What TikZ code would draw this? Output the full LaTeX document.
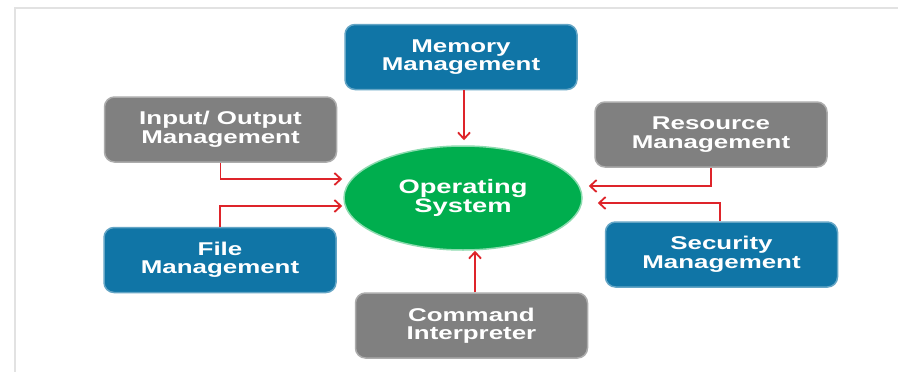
\documentclass[tikz,border=0pt]{standalone}
\usepackage{fontspec}
\newfontfamily\boxfont{Liberation Sans}[FakeStretch=1.4]
\usetikzlibrary{arrows.meta,shapes.geometric}
\definecolor{osblue}{RGB}{16,117,166}
\definecolor{osgray}{RGB}{128,128,128}
\definecolor{osgreen}{RGB}{0,174,78}
\definecolor{osred}{RGB}{222,36,42}
\definecolor{frame}{RGB}{226,226,226}
\tikzset{
  mbox/.style={rectangle, rounded corners=10pt, minimum width=232pt, minimum height=65pt,
    inner sep=0pt, align=center, text=white, line width=1.5pt,
    font=\boxfont\bfseries\fontsize{18.5pt}{18.5pt}\selectfont},
  bluebox/.style={mbox, fill=osblue, draw=osblue!65!white},
  graybox/.style={mbox, fill=osgray, draw=osgray!65!white},
  osnode/.style={ellipse, minimum width=238pt, minimum height=104pt, inner sep=0pt,
    fill=osgreen, draw=osgreen!45!white, line width=1.5pt, align=center, text=white,
    font=\boxfont\bfseries\fontsize{19.5pt}{19.5pt}\selectfont},
  conn/.style={draw=osred, line width=1.8pt, -{Straight Barb[length=6.5pt,width=12pt]}},
}
\begin{document}
\begin{tikzpicture}[x=1pt,y=1pt]
\useasboundingbox (0,0) rectangle (898,-372);
\fill[white] (0,0) rectangle (898,-372);
\draw[frame, line width=2pt] (15,-372) -- (15,-7.5) -- (898,-7.5);

\node[osnode] (os) at (463,-198) {Operating\\System};
\node[bluebox] (mem) at (461,-57) {Memory\\Management};
\node[graybox] (io) at (220.5,-129.5) {Input/ Output\\Management};
\node[graybox] (res) at (711,-134.5) {Resource\\Management};
\node[bluebox] (file) at (220,-260) {File\\Management};
\node[bluebox] (sec) at (721.5,-254.5) {Security\\Management};
\node[graybox] (cmd) at (471.5,-325.5) {Command\\Interpreter};

\draw[conn] ([xshift=3pt]mem.south) -- ([xshift=3pt,yshift=5pt]mem.south |- os.north);
\draw[conn] (io.south) |- ([xshift=-1pt,yshift=19pt]os.west);
\draw[conn] (file.north) |- ([xshift=-1pt,yshift=-8pt]os.west);
\draw[conn] (res.south) |- ([xshift=6pt,yshift=12pt]os.east);
\draw[conn] ([xshift=-1.5pt]sec.north) |- ([xshift=15pt,yshift=-5pt]os.east);
\draw[conn] ([xshift=3.5pt]cmd.north) -- ([xshift=3.5pt]cmd.north |- os.south);
\end{tikzpicture}
\end{document}
